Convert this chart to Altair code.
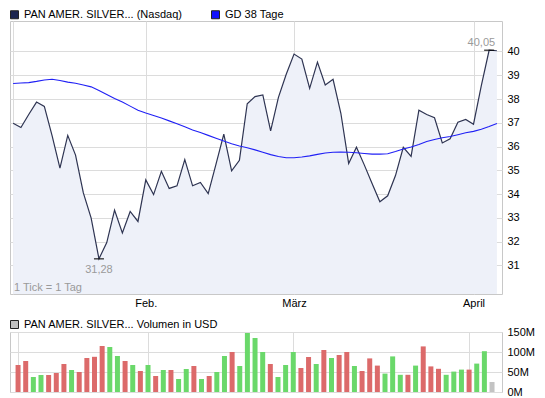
import altair as alt
import pandas as pd

# ---------------- data ----------------
series_names = ["PAN AMER. SILVER... (Nasdaq)", "GD 38 Tage"]
volume_name = ["PAN AMER. SILVER... Volumen in USD"]
note_text = ["1 Tick = 1 Tag"]

price = [36.98, 36.80, 37.35, 37.87, 37.69, 36.45, 35.09, 36.47, 35.64, 34.05,
         32.99, 31.28, 31.96, 33.33, 32.37, 33.27, 32.85, 34.60, 33.98, 34.96,
         34.24, 34.35, 35.45, 34.35, 34.49, 34.02, 35.26, 36.52, 34.98, 35.42,
         37.80, 38.10, 38.17, 36.66, 38.07, 39.04, 39.89, 39.68, 38.45, 39.55,
         38.59, 38.83, 37.40, 35.29, 35.97, 35.23, 34.45, 33.68, 33.93, 34.78,
         35.97, 35.59, 37.53, 37.35, 37.21, 36.15, 36.33, 37.02, 37.14, 36.94,
         38.56, 40.05, 40.03]

ma38 = [38.65, 38.67, 38.69, 38.74, 38.80, 38.83, 38.78, 38.71, 38.66, 38.59,
        38.51, 38.36, 38.19, 38.02, 37.87, 37.70, 37.53, 37.41, 37.31, 37.20,
        37.08, 36.96, 36.83, 36.70, 36.59, 36.47, 36.35, 36.23, 36.12, 36.02,
        35.95, 35.86, 35.76, 35.66, 35.58, 35.53, 35.53, 35.56, 35.61, 35.67,
        35.73, 35.76, 35.77, 35.76, 35.74, 35.71, 35.68, 35.68, 35.70, 35.79,
        35.90, 35.98, 36.09, 36.21, 36.30, 36.37, 36.42, 36.50, 36.58, 36.64,
        36.73, 36.84, 36.97]

volume_m = [67.5, 77.5, 37.5, 42.5, 42.5, 47.5, 70, 55, 50, 85,
            88, 115, 112.5, 90, 77.5, 67.5, 52.5, 67.5, 40, 55,
            55, 32.5, 57.5, 65, 32.5, 40, 50, 90, 100, 65,
            147.5, 135, 100, 70, 37.5, 67.5, 100, 60, 87.5, 70,
            105, 85, 92.5, 100, 65, 52.5, 84, 66, 46, 89,
            43, 43, 66, 114, 64, 58, 43, 51, 56, 56,
            71, 102, 25]

direction = ["down", "down", "up", "up", "down", "down", "down", "up", "down", "down",
             "down", "down", "up", "up", "down", "up", "down", "up", "down", "up",
             "down", "up", "up", "down", "up", "down", "up", "up", "down", "up",
             "up", "up", "up", "down", "up", "up", "up", "down", "down", "up",
             "down", "up", "down", "down", "up", "down", "down", "down", "up", "up",
             "up", "down", "up", "down", "down", "down", "up", "up", "up", "down",
             "up", "up", "current"]

month_ticks = [0, 17, 36, 59]
month_labels = ["", "Feb.", "März", "April"]
price_ticks = [31, 32, 33, 34, 35, 36, 37, 38, 39, 40]
volume_ticks = [0, 50, 100, 150]

# ---------------- build ----------------
FONT = "Liberation Sans"
W, H1, H2 = 492, 273, 60
n = len(price)
df = pd.DataFrame({"i": list(range(n)), "price": price, "ma": ma38,
                   "vol": volume_m, "dir": direction})

lo_i = price.index(min(price))
hi_i = price.index(max(price))
fmt = lambda v: f"{v:.2f}".replace(".", ",")
lo_df = pd.DataFrame({"i": [lo_i], "price": [price[lo_i]], "t": [fmt(price[lo_i])]})
hi_df = pd.DataFrame({"i": [hi_i], "price": [price[hi_i]], "t": [fmt(price[hi_i])]})
leg_df = pd.DataFrame({"series": series_names, "i": [0, 0], "price": [price[0]] * 2})
vleg_df = pd.DataFrame({"series": volume_name, "i": [0], "vol": [0]})
note_df = pd.DataFrame({"t": note_text})

label_expr = " : ".join(f"datum.value == {v} ? '{l}'" for v, l in zip(month_ticks, month_labels)) + " : ''"

xscale = alt.Scale(domain=[-0.4, n - 0.35], nice=False, zero=False)
yscale = alt.Scale(domain=[29.8, 41.28], nice=False, zero=False)

grid_col = "#dcdcdc"
x_axis_main = alt.Axis(values=month_ticks, labelExpr=label_expr, grid=True, gridColor=grid_col,
                       ticks=False, domain=False, title=None, labelPadding=3, labelOverlap=False,
                       labelFontSize=11, labelFont=FONT, labelColor="black")
y_axis_main = alt.Axis(orient="right", values=price_ticks, format="d", grid=True, gridColor=grid_col,
                       ticks=False, domain=False, title=None, labelPadding=5, labelOverlap=False,
                       labelBound=False, labelFontSize=11, labelFont=FONT, labelColor="black")

X = alt.X("i:Q", scale=xscale, axis=x_axis_main)
Y = alt.Y("price:Q", scale=yscale, axis=y_axis_main)
YMA = alt.Y("ma:Q", scale=yscale, axis=y_axis_main)

area = alt.Chart(df).mark_area(color="#eef1f9", clip=True).encode(x=X, y=Y)
price_line = alt.Chart(df).mark_line(color="#2e3452", strokeWidth=1.2, clip=True).encode(x=X, y=Y)
ma_line = alt.Chart(df).mark_line(color="#2020f5", strokeWidth=1.1, clip=True).encode(x=X, y=YMA)

lo_tick = alt.Chart(lo_df).mark_tick(orient="horizontal", color="black", size=10, thickness=1.5).encode(x=X, y=Y)
hi_tick = alt.Chart(hi_df).mark_tick(orient="horizontal", color="black", size=10, thickness=1.5).encode(x=X, y=Y)
lo_text = alt.Chart(lo_df).mark_text(baseline="top", dy=5, color="#9a9a9a", fontSize=11, font=FONT).encode(
    x=X, y=Y, text="t:N")
hi_text = alt.Chart(hi_df).mark_text(baseline="bottom", align="right", dx=6, dy=-2, color="#9a9a9a",
                                     fontSize=11, font=FONT).encode(x=X, y=Y, text="t:N")
note = alt.Chart(note_df).mark_text(align="left", baseline="bottom", color="#9a9a9a", fontSize=11,
                                    font=FONT).encode(x=alt.value(4), y=alt.value(H1 - 1), text="t:N")

legend_main = alt.Chart(leg_df).mark_square(opacity=0).encode(
    x=X, y=Y,
    color=alt.Color("series:N", scale=alt.Scale(domain=series_names, range=["#1c2550", "#1010ff"]),
                    legend=alt.Legend(title=None, orient="none", legendX=-1, legendY=-12,
                                      direction="horizontal", symbolType="square", symbolSize=64,
                                      symbolOpacity=1, symbolStrokeColor="#222", symbolStrokeWidth=1,
                                      labelFontSize=11, labelFont=FONT, labelColor="black",
                                      labelLimit=300, columnPadding=26, labelOffset=4)))

main = alt.layer(area, price_line, ma_line, lo_tick, hi_tick, lo_text, hi_text, note, legend_main).properties(
    width=W, height=H1)

x_axis_vol = alt.Axis(values=month_ticks, labels=False, grid=True, gridColor=grid_col,
                      ticks=False, domain=False, title=None)
y_axis_vol = alt.Axis(orient="right", values=volume_ticks, labelExpr="datum.value + 'M'", grid=True,
                      gridColor=grid_col, ticks=False, domain=False, title=None, labelPadding=5,
                      labelOverlap=False, labelBound=False, labelFontSize=11, labelFont=FONT,
                      labelColor="black")

XV = alt.X("i:Q", scale=xscale, axis=x_axis_vol)
YV = alt.Y("vol:Q", scale=alt.Scale(domain=[0, 150], nice=False), axis=y_axis_vol)

bars = alt.Chart(df).mark_bar(size=5).encode(
    x=XV, y=YV,
    fill=alt.Fill("dir:N", scale=alt.Scale(domain=["down", "up", "current"],
                                           range=["#dc6a6a", "#6ad86a", "#c3c3c3"]), legend=None))

legend_vol = alt.Chart(vleg_df).mark_square(opacity=0).encode(
    x=XV, y=YV,
    color=alt.Color("series:N", scale=alt.Scale(domain=volume_name, range=["#c0c0c0"]),
                    legend=alt.Legend(title=None, orient="none", legendX=-1, legendY=-13,
                                      direction="horizontal", symbolType="square", symbolSize=64,
                                      symbolOpacity=1, symbolStrokeColor="#222", symbolStrokeWidth=1,
                                      labelFontSize=11, labelFont=FONT, labelColor="black",
                                      labelLimit=300, labelOffset=4)))

vol = alt.layer(bars, legend_vol).properties(width=W, height=H2)

chart = alt.vconcat(main, vol, spacing=9).resolve_scale(
    color="independent", x="independent", y="independent"
).resolve_legend(color="independent").properties(padding=0, background="white").configure_view(
    stroke="#c8c8c8"
).configure_axis(labelOverlap=False)

chart.save("out.html", embed_options={"renderer": "svg", "actions": False})
